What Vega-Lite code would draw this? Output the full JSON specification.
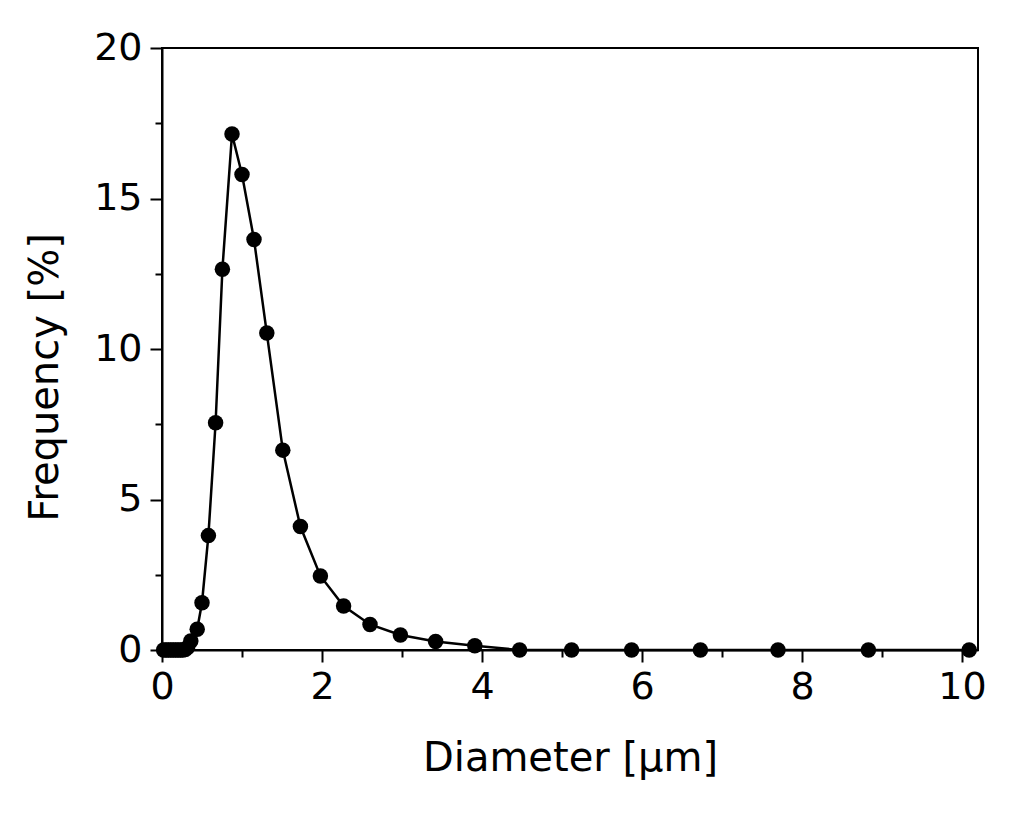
{
  "$schema": "https://vega.github.io/schema/vega-lite/v6.json",
  "width": 816,
  "height": 602,
  "autosize": {"type": "none"},
  "padding": {"left": 162, "top": 48, "right": 46, "bottom": 169},
  "background": "white",
  "config": {
    "view": {"stroke": "black", "strokeWidth": 2},
    "font": "DejaVu Sans",
    "axis": {
      "domainColor": "black",
      "domainWidth": 2,
      "tickColor": "black",
      "tickWidth": 2,
      "labelFont": "DejaVu Sans",
      "labelFontSize": 38,
      "labelColor": "black",
      "titleFont": "DejaVu Sans",
      "titleFontSize": 40,
      "titleFontWeight": "normal",
      "titleColor": "black",
      "grid": false
    }
  },
  "data": {
    "values": [
      {"d": 0.02, "f": 0},
      {"d": 0.05, "f": 0},
      {"d": 0.08, "f": 0},
      {"d": 0.11, "f": 0},
      {"d": 0.14, "f": 0},
      {"d": 0.17, "f": 0},
      {"d": 0.2, "f": 0},
      {"d": 0.23, "f": 0},
      {"d": 0.26, "f": 0},
      {"d": 0.29, "f": 0.02},
      {"d": 0.32, "f": 0.08},
      {"d": 0.36, "f": 0.3},
      {"d": 0.44, "f": 0.69},
      {"d": 0.5, "f": 1.57},
      {"d": 0.58, "f": 3.8},
      {"d": 0.67, "f": 7.55},
      {"d": 0.755, "f": 12.65},
      {"d": 0.875, "f": 17.14},
      {"d": 1.0, "f": 15.8},
      {"d": 1.15, "f": 13.64},
      {"d": 1.31, "f": 10.53},
      {"d": 1.51, "f": 6.64},
      {"d": 1.73, "f": 4.1},
      {"d": 1.98, "f": 2.46},
      {"d": 2.27, "f": 1.46},
      {"d": 2.6, "f": 0.85},
      {"d": 2.98, "f": 0.5},
      {"d": 3.42, "f": 0.28},
      {"d": 3.91, "f": 0.14},
      {"d": 4.47, "f": 0},
      {"d": 5.12, "f": 0},
      {"d": 5.87, "f": 0},
      {"d": 6.73, "f": 0},
      {"d": 7.7, "f": 0},
      {"d": 8.83, "f": 0},
      {"d": 10.09, "f": 0}
    ]
  },
  "encoding": {
    "x": {
      "field": "d",
      "type": "quantitative",
      "scale": {"domain": [0, 10.2], "nice": false, "zero": false},
      "axis": {
        "title": "Diameter [μm]",
        "values": [0, 1, 2, 3, 4, 5, 6, 7, 8, 9, 10],
        "labelExpr": "datum.value % 2 === 0 ? datum.label : ''",
        "tickSize": {"expr": "datum.value % 2 === 0 ? 12 : 7"},
        "labelPadding": 6,
        "titlePadding": 32,
        "labelFlush": false
      }
    },
    "y": {
      "field": "f",
      "type": "quantitative",
      "scale": {"domain": [0, 20], "nice": false},
      "axis": {
        "title": "Frequency [%]",
        "values": [0, 2.5, 5, 7.5, 10, 12.5, 15, 17.5, 20],
        "labelExpr": "datum.value % 5 === 0 ? datum.label : ''",
        "tickSize": {"expr": "datum.value % 5 === 0 ? 12 : 7"},
        "labelPadding": 8,
        "titlePadding": 28,
        "titleY": 329,
        "labelFlush": false
      }
    }
  },
  "layer": [
    {"mark": {"type": "line", "color": "black", "strokeWidth": 2.5}},
    {"mark": {"type": "point", "filled": true, "color": "black", "opacity": 1, "size": 240}}
  ]
}
